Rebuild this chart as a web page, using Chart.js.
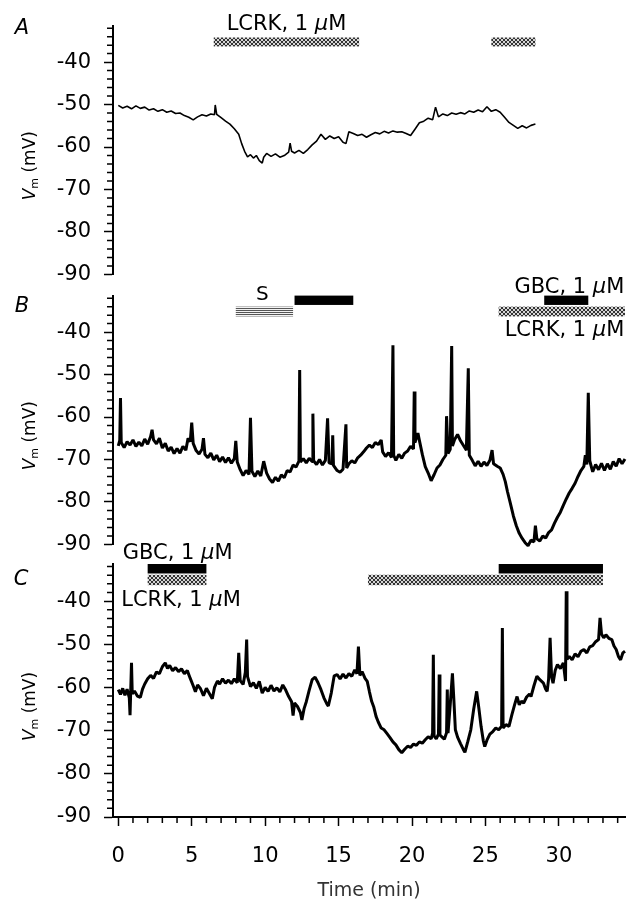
<!DOCTYPE html>
<html lang="en">
<head>
<meta charset="UTF-8">
<title>Membrane potential - LCRK and GBC</title>
<style>
  body { margin: 0; background: #fff; }
  #wrap { position: relative; width: 636px; height: 903px; }
  canvas { position: absolute; left: 0; }
</style>
</head>
<body>
<div id="wrap">
  <canvas id="panelA" width="636" height="300" style="top:0;width:636px;height:300px"></canvas>
  <canvas id="panelB" width="636" height="300" style="top:270px;width:636px;height:300px"></canvas>
  <canvas id="panelC" width="636" height="373" style="top:530px;width:636px;height:373px"></canvas>
</div>

<script src="https://cdn.jsdelivr.net/npm/chart.js@4/dist/chart.umd.min.js"></script>
<script>
    // tick labels
    const xLabels = [0, 5, 10, 15, 20, 25, 30];
    const yLabels = [-40, -50, -60, -70, -80, -90];

    // panel A: time (min) and Vm (mV)
    const aTime = [
        0, 0.3, 0.6, 0.9, 1.2, 1.5, 1.8, 2.1, 2.4, 2.7,
        3.0, 3.3, 3.6, 3.9, 4.2, 4.5, 4.8, 5.1, 5.4, 5.7,
        6.0, 6.3, 6.55, 6.6, 6.7, 7.0, 7.3, 7.6, 7.9, 8.2,
        8.4, 8.6, 8.8, 9.0, 9.2, 9.4, 9.6, 9.8, 9.9, 10.1,
        10.4, 10.7, 11.0, 11.3, 11.6, 11.7, 11.8, 12.0, 12.3, 12.6,
        12.9, 13.2, 13.5, 13.8, 14.1, 14.4, 14.7, 15.0, 15.3, 15.5,
        15.7, 16.0, 16.3, 16.6, 16.9, 17.2, 17.5, 17.8, 18.1, 18.4,
        18.7, 19.0, 19.3, 19.6, 19.9, 20.2, 20.5, 20.8, 21.1, 21.4,
        21.6, 21.8, 22.1, 22.4, 22.7, 23.0, 23.3, 23.6, 23.9, 24.2,
        24.5, 24.8, 25.1, 25.4, 25.7, 26.0, 26.3, 26.6, 26.9, 27.2,
        27.5, 27.8, 28.1, 28.4
    ];
    const aVm = [
        -50.2, -50.8, -50.4, -51.0, -50.3, -50.9, -50.6, -51.3, -51.0, -51.6,
        -51.2, -51.8, -51.5, -52.1, -52.0, -52.6, -53.0, -53.6, -52.9, -52.4,
        -52.7, -52.2, -52.4, -50.1, -52.3, -53.1, -53.9, -54.6, -55.7, -57.0,
        -59.2, -61.0, -62.3, -61.8, -62.6, -62.0, -63.2, -63.8, -62.4, -61.5,
        -62.2, -61.6, -62.4, -62.0, -61.2, -59.1, -61.0, -61.4, -60.8, -61.5,
        -60.6, -59.5, -58.6, -57.0, -58.2, -57.4, -58.0, -57.6, -58.9, -59.2,
        -56.4, -56.8, -57.3, -57.0, -57.7, -57.1, -56.6, -56.9, -56.3, -56.7,
        -56.2, -56.5, -56.4, -56.8, -57.3, -55.8, -54.3, -53.9, -53.2, -53.6,
        -50.6, -52.9, -52.2, -52.6, -52.0, -52.3, -51.9, -52.2, -51.5, -51.8,
        -51.3, -51.7, -50.5, -51.6, -51.2, -51.8, -53.0, -54.2, -54.9, -55.6,
        -55.0, -55.5, -54.9, -54.6
    ];

    // panel B
    const bTime = [
        0.0, 0.1, 0.15, 0.2, 0.4, 0.6, 0.8, 1.0, 1.2, 1.4,
        1.6, 1.8, 2.0, 2.2, 2.3, 2.4, 2.6, 2.8, 3.0, 3.2,
        3.4, 3.6, 3.8, 4.0, 4.2, 4.4, 4.6, 4.75, 4.9, 5.0,
        5.1, 5.3, 5.5, 5.7, 5.8, 5.9, 6.1, 6.3, 6.5, 6.7,
        6.9, 7.1, 7.3, 7.5, 7.7, 7.9, 8.0, 8.1, 8.3, 8.5,
        8.7, 8.9, 9.0, 9.1, 9.3, 9.5, 9.7, 9.9, 10.1, 10.3,
        10.5, 10.7, 10.9, 11.1, 11.3, 11.5, 11.7, 11.9, 12.1, 12.3,
        12.35, 12.4, 12.6, 12.8, 13.0, 13.2, 13.25, 13.3, 13.5, 13.7,
        13.9, 14.1, 14.25, 14.35, 14.55, 14.6, 14.65, 14.9, 15.1, 15.3,
        15.5, 15.55, 15.7, 15.9, 16.1, 16.3, 16.5, 16.7, 16.9, 17.1,
        17.3, 17.5, 17.7, 17.9, 18.0, 18.2, 18.4, 18.6, 18.7, 18.75,
        18.9, 19.1, 19.3, 19.5, 19.7, 19.9, 20.1, 20.15, 20.2, 20.4,
        20.5, 20.7, 20.9, 21.1, 21.3, 21.5, 21.7, 21.9, 22.1, 22.3,
        22.35, 22.45, 22.6, 22.7, 22.75, 22.9, 23.1, 23.3, 23.5, 23.7,
        23.83, 23.9, 24.1, 24.3, 24.5, 24.7, 24.9, 25.1, 25.3, 25.45,
        25.55, 25.8, 26.0, 26.2, 26.35, 26.5, 26.7, 26.9, 27.1, 27.3,
        27.5, 27.7, 27.9, 28.1, 28.3, 28.4, 28.5, 28.7, 28.9, 29.1,
        29.3, 29.5, 29.7, 29.9, 30.1, 30.3, 30.5, 30.7, 30.9, 31.1,
        31.3, 31.5, 31.7, 31.8, 31.9, 32.0, 32.1, 32.3, 32.5, 32.7,
        32.9, 33.1, 33.3, 33.5, 33.7, 33.9, 34.1, 34.3, 34.5
    ];
    const bVm = [
        -66.8, -65.5, -55.5, -66.0, -67.2, -65.8, -66.6, -65.4, -66.9, -65.9,
        -66.8, -65.2, -66.4, -64.6, -63.0, -65.4, -66.3, -65.0, -67.3, -66.2,
        -68.0, -67.1, -68.6, -67.4, -68.5, -66.9, -67.8, -65.0, -65.8, -61.3,
        -66.2, -67.9, -68.7, -67.6, -65.0, -68.8, -69.6, -68.5, -70.1, -69.0,
        -70.5, -69.4, -70.7, -69.6, -70.9, -69.8, -65.6, -70.6, -72.4, -73.8,
        -72.6, -73.5, -60.2, -72.8, -74.0, -72.7, -73.9, -70.4, -73.2, -74.6,
        -75.4, -74.2, -75.1, -73.6, -74.3, -72.6, -72.9, -71.3, -71.8, -70.4,
        -48.9, -70.6, -69.8, -70.8, -69.7, -70.5, -59.2, -70.3, -71.2, -70.0,
        -71.3, -70.2, -60.3, -70.8, -71.0, -64.3, -71.4, -72.6, -73.0, -72.3,
        -61.7, -72.0, -71.0, -70.3, -70.8, -69.6, -69.0, -68.2, -67.3, -66.6,
        -67.2, -66.0, -66.5, -65.4, -68.2, -69.3, -68.4, -69.5, -43.1, -69.0,
        -70.2, -68.8, -69.7, -68.5, -68.0, -66.9, -67.5, -54.0, -66.0, -63.8,
        -65.5, -68.8, -71.7, -73.2, -75.0, -73.6, -72.0, -71.3, -70.0, -69.0,
        -59.8, -68.6, -67.6, -43.3, -66.8, -65.3, -64.1, -65.6, -66.7, -67.8,
        -48.5, -69.0, -70.2, -71.5, -70.4, -71.6, -70.6, -71.4, -70.2, -67.8,
        -71.0, -71.6, -72.0, -73.5, -75.2, -77.6, -80.4, -83.3, -85.6, -87.4,
        -88.6, -89.6, -90.3, -89.0, -89.4, -85.6, -88.7, -89.2, -88.0, -88.5,
        -87.2, -86.6, -85.0, -83.6, -82.4, -80.8, -79.3, -77.9, -76.8, -75.6,
        -74.0, -72.6, -71.6, -69.0, -71.2, -54.3, -70.3, -72.9, -71.2, -72.4,
        -70.9, -72.6, -71.0, -72.3, -70.5, -71.6, -69.8, -71.0, -69.9
    ];

    // panel C
    const cTime = [
        0.0, 0.15, 0.3, 0.45, 0.6, 0.75, 0.8, 0.9, 0.95, 1.1,
        1.3, 1.5, 1.65, 1.8, 2.0, 2.2, 2.4, 2.6, 2.8, 3.0,
        3.2, 3.35, 3.5, 3.7, 3.9, 4.1, 4.3, 4.5, 4.7, 4.9,
        5.1, 5.25, 5.4, 5.6, 5.8, 6.0, 6.2, 6.4, 6.55, 6.75,
        6.9, 7.1, 7.3, 7.5, 7.7, 7.9, 8.1, 8.2, 8.3, 8.5,
        8.65, 8.74, 8.8, 9.0, 9.2, 9.4, 9.6, 9.8, 10.0, 10.2,
        10.4, 10.6, 10.8, 11.0, 11.2, 11.4, 11.6, 11.8, 11.9, 12.0,
        12.2, 12.4, 12.5, 12.65, 12.8, 13.0, 13.2, 13.4, 13.6, 13.8,
        14.0, 14.2, 14.3, 14.5, 14.7, 14.9, 15.1, 15.3, 15.5, 15.7,
        15.9, 16.1, 16.25, 16.35, 16.45, 16.6, 16.8, 16.95, 17.1, 17.25,
        17.4, 17.55, 17.7, 17.9, 18.1, 18.3, 18.5, 18.7, 18.9, 19.1,
        19.3, 19.5, 19.7, 19.9, 20.1, 20.3, 20.5, 20.7, 20.9, 21.1,
        21.3, 21.4, 21.45, 21.5, 21.65, 21.8, 21.85, 21.9, 22.05, 22.2,
        22.35, 22.4, 22.45, 22.6, 22.75, 22.85, 22.95, 23.1, 23.3, 23.5,
        23.6, 23.8, 24.0, 24.2, 24.4, 24.55, 24.7, 24.85, 24.95, 25.1,
        25.3, 25.5, 25.7, 25.9, 26.1, 26.15, 26.2, 26.4, 26.6, 26.8,
        27.0, 27.15, 27.3, 27.45, 27.6, 27.8, 28.0, 28.1, 28.3, 28.5,
        28.7, 28.95, 29.1, 29.2, 29.3, 29.4, 29.5, 29.6, 29.75, 29.9,
        30.1, 30.3, 30.45, 30.5, 30.55, 30.7, 30.9, 31.1, 31.3, 31.5,
        31.7, 31.9, 32.1, 32.3, 32.5, 32.7, 32.8, 32.9, 33.05, 33.2,
        33.4, 33.6, 33.75, 33.9, 34.05, 34.2, 34.35, 34.5
    ];
    const cVm = [
        -60.5, -61.6, -60.2, -61.8, -60.4, -62.4, -66.4, -54.3, -61.5, -60.8,
        -62.0, -62.3, -60.4, -59.2, -58.0, -57.2, -57.9, -56.4, -56.8, -55.2,
        -54.3, -55.6, -54.9, -56.1, -55.4, -56.3, -55.7, -56.8, -56.1, -57.9,
        -59.6, -61.0, -59.4, -60.3, -61.9, -60.2, -61.4, -62.6, -60.0, -58.5,
        -59.2, -58.0, -59.0, -58.3, -59.1, -58.0, -58.9, -52.0, -58.4, -59.3,
        -56.5, -48.9, -57.5, -59.8, -58.9, -60.2, -58.6, -61.3, -60.0, -60.9,
        -59.5, -60.8, -60.1, -61.0, -59.4, -60.6, -62.1, -63.3, -66.5, -63.6,
        -64.4, -65.8, -67.5, -64.9, -63.3, -60.6, -58.2, -57.6, -58.9, -60.5,
        -62.4, -63.8, -64.3, -61.3, -57.3, -57.0, -58.0, -56.9, -57.8, -56.8,
        -57.4, -55.9, -56.8, -50.5, -57.2, -56.3, -57.9, -58.6, -61.0, -63.2,
        -64.6, -66.7, -68.0, -69.4, -69.8, -70.7, -71.6, -72.6, -73.3, -74.4,
        -75.1, -74.3, -73.6, -73.9, -73.1, -73.4, -72.6, -72.9, -72.1, -71.4,
        -71.9, -70.6, -52.4, -71.2, -71.9, -70.8, -57.0, -71.0, -71.5, -72.0,
        -70.5, -60.5, -70.6, -64.0, -56.7, -63.0, -69.8, -71.5, -73.0, -74.4,
        -75.0, -72.5, -69.8, -65.0, -60.9, -64.8, -69.0, -72.3, -73.7, -72.2,
        -70.8, -70.2, -69.4, -69.8, -69.0, -46.2, -69.4, -68.6, -69.0, -66.3,
        -63.8, -62.1, -64.0, -63.2, -63.6, -62.2, -61.5, -62.1, -59.6, -57.4,
        -58.2, -59.0, -60.4, -60.9, -58.0, -48.5, -57.5, -59.0, -56.0, -54.7,
        -55.6, -54.3, -58.5, -37.7, -53.5, -52.8, -53.6, -52.2, -52.9, -51.6,
        -51.2, -52.0, -50.6, -50.3, -49.4, -48.9, -43.9, -47.6, -48.5, -47.8,
        -48.6, -48.9, -50.4, -51.2, -52.8, -53.6, -52.0, -51.6
    ];

    // drug application periods (min)
    const aLcrk = [[6.5, 16.4], [25.4, 28.4]];
    const bStim = [[8.0, 11.9]];
    const bBlack = [[12.0, 16.0], [29.0, 32.0]];
    const bLcrk = [[25.9, 34.5]];
    const cGbc = [[2.0, 6.0], [25.9, 33.0]];
    const cLcrk = [[2.0, 6.0], [17.0, 33.0]];

    const FONT = '"DejaVu Sans", sans-serif';
    const LCRK = [['LCRK, 1 ', ''], ['\u03bc', 'italic '], ['M', '']];
    const GBC = [['GBC, 1 ', ''], ['\u03bc', 'italic '], ['M', '']];

    function makeFill(ctx, kind) {
        if (kind === 'black') return '#000';
        const c = document.createElement('canvas');
        const g = c.getContext('2d');
        if (kind === 'stripes') {
            c.width = 2; c.height = 2;
            g.fillStyle = '#f2f2f2'; g.fillRect(0, 0, 2, 2);
            g.fillStyle = '#555'; g.fillRect(0, 0, 2, 1);
        } else {
            // fine cross-hatch
            c.width = 4; c.height = 4;
            g.fillStyle = '#d6d6d6'; g.fillRect(0, 0, 4, 4);
            g.fillStyle = '#333';
            for (let i = 0; i < 4; i++) { g.fillRect(i, i, 1, 1); g.fillRect(3 - i, i, 1, 1); }
        }
        return ctx.createPattern(c, 'repeat');
    }

    function drawRich(ctx, parts, x, y, align, size) {
        let w = 0;
        parts.forEach(p => { ctx.font = p[1] + size + 'px ' + FONT; w += ctx.measureText(p[0]).width; });
        let cx = align === 'right' ? x - w : align === 'center' ? x - w / 2 : x;
        ctx.textAlign = 'left';
        parts.forEach(p => {
            ctx.font = p[1] + size + 'px ' + FONT;
            ctx.fillText(p[0], cx, y);
            cx += ctx.measureText(p[0]).width;
        });
    }

    function drawVm(ctx, cx, cy) {
        const parts = [['V', 'italic 17px ', 0], ['m', '11px ', 4], [' (mV)', '17px ', 0]];
        ctx.save();
        ctx.translate(cx, cy);
        ctx.rotate(-Math.PI / 2);
        let w = 0;
        parts.forEach(p => { ctx.font = p[1] + FONT; w += ctx.measureText(p[0]).width; });
        let x = -w / 2;
        ctx.textAlign = 'left';
        ctx.textBaseline = 'middle';
        parts.forEach(p => {
            ctx.font = p[1] + FONT;
            ctx.fillText(p[0], x, p[2]);
            x += ctx.measureText(p[0]).width;
        });
        ctx.restore();
    }

    // minor ticks, treatment bars and labels
    const decor = {
        id: 'decor',
        afterDraw(chart, args, o) {
            const ctx = chart.ctx, xs = chart.scales.x, ys = chart.scales.y;
            ctx.save();
            ctx.strokeStyle = '#000';
            ctx.lineWidth = 1.5;
            ctx.beginPath();
            ys.ticks.forEach(t => {
                if (yLabels.includes(t.value)) return;
                const p = ys.getPixelForValue(t.value);
                ctx.moveTo(ys.right - 6, p); ctx.lineTo(ys.right, p);
            });
            if (xs.options.display) {
                xs.ticks.forEach(t => {
                    if (xLabels.includes(t.value)) return;
                    const p = xs.getPixelForValue(t.value);
                    ctx.moveTo(p, xs.top); ctx.lineTo(p, xs.top + 6);
                });
            }
            ctx.stroke();

            o.bars.forEach(b => {
                const x0 = xs.getPixelForValue(b.from), x1 = xs.getPixelForValue(b.to);
                const y0 = ys.getPixelForValue(b.top), y1 = ys.getPixelForValue(b.bottom);
                ctx.fillStyle = makeFill(ctx, b.fill);
                ctx.fillRect(x0, y0, x1 - x0, y1 - y0);
            });

            ctx.fillStyle = '#000';
            ctx.textBaseline = 'middle';
            o.notes.forEach(n => drawRich(ctx, n.parts, xs.getPixelForValue(n.t), ys.getPixelForValue(n.v), n.align, n.size || 21));

            ctx.font = 'italic 21px ' + FONT;
            ctx.textAlign = 'center';
            ctx.fillText(o.letter[0], o.letter[1], o.letter[2]);

            drawVm(ctx, 31, ys.getPixelForValue(-64.4));
            ctx.restore();
        }
    };

    function bars(list, top, bottom, fill) {
        return list.map(r => ({ from: r[0], to: r[1], top: top, bottom: bottom, fill: fill }));
    }

    function makePanel(id, times, vm, lineWidth, padding, showX, decorOpts) {
        return new Chart(document.getElementById(id), {
            type: 'line',
            data: {
                datasets: [{
                    data: times.map((t, i) => ({ x: t, y: vm[i] })),
                    borderColor: '#000',
                    borderWidth: lineWidth,
                    borderJoinStyle: 'bevel',
                    pointRadius: 0,
                    tension: 0,
                    clip: 8
                }]
            },
            options: {
                responsive: false,
                animation: false,
                events: [],
                layout: { padding: padding },
                plugins: { legend: { display: false }, tooltip: { enabled: false }, decor: decorOpts },
                scales: {
                    x: {
                        type: 'linear', min: -0.36, max: 34.5, display: showX,
                        afterBuildTicks: s => { s.ticks = []; for (let t = 0; t <= 34; t++) s.ticks.push({ value: t }); },
                        afterFit: s => { if (showX) s.height = 86; },
                        border: { color: '#000', width: 2 },
                        grid: {
                            drawOnChartArea: false, tickLength: 9, tickWidth: 1.5,
                            tickColor: c => (c.tick && xLabels.includes(c.tick.value)) ? '#000' : 'rgba(0,0,0,0)'
                        },
                        ticks: {
                            autoSkip: false, maxRotation: 0, padding: 18, color: '#000',
                            font: { family: FONT, size: 21 },
                            callback: v => xLabels.includes(v) ? String(v) : ''
                        },
                        title: {
                            display: true, text: 'Time (min)', color: '#333',
                            font: { family: FONT, size: 19 }, padding: { top: 0, bottom: 1 }
                        }
                    },
                    y: {
                        type: 'linear', min: -90, max: -31.4,
                        afterBuildTicks: s => { s.ticks = []; for (let v = -90; v <= -32; v += 2) s.ticks.push({ value: v }); },
                        afterFit: s => { s.width = 113; },
                        border: { color: '#000', width: 2 },
                        grid: {
                            drawOnChartArea: false, tickLength: 9, tickWidth: 1.5,
                            tickColor: c => (c.tick && yLabels.includes(c.tick.value)) ? '#000' : 'rgba(0,0,0,0)'
                        },
                        ticks: {
                            autoSkip: false, padding: 13, color: '#000',
                            font: { family: FONT, size: 21 },
                            callback: v => yLabels.includes(v) ? String(v) : ''
                        }
                    }
                }
            },
            plugins: [decor]
        });
    }

    makePanel('panelA', aTime, aVm, 1.6, { top: 25, bottom: 24, left: 0, right: 11 }, false, {
        letter: ['A', 22, 29],
        bars: bars(aLcrk, -34.2, -36.3, 'hatch'),
        notes: [{ parts: LCRK, t: 11.45, v: -31.2, align: 'center' }]
    });

    makePanel('panelB', bTime, bVm, 3, { top: 25, bottom: 23, left: 0, right: 11 }, false, {
        letter: ['B', 22, 37],
        bars: bars(bStim, -34.0, -36.3, 'stripes')
            .concat(bars(bBlack, -31.4, -33.6, 'black'))
            .concat(bars(bLcrk, -34.0, -36.3, 'hatch')),
        notes: [
            { parts: [['S', '']], t: 9.8, v: -31.3, align: 'center', size: 20 },
            { parts: GBC, t: 34.45, v: -29.4, align: 'right' },
            { parts: LCRK, t: 34.45, v: -39.6, align: 'right' }
        ]
    });

    makePanel('panelC', cTime, cVm, 3, { top: 34, bottom: 0, left: 0, right: 11 }, true, {
        letter: ['C', 21, 50],
        bars: bars(cGbc, -31.4, -33.6, 'black').concat(bars(cLcrk, -33.9, -36.3, 'hatch')),
        notes: [
            { parts: GBC, t: 0.3, v: -28.9, align: 'left' },
            { parts: LCRK, t: 0.2, v: -39.8, align: 'left' }
        ]
    });
</script>
</body>
</html>
